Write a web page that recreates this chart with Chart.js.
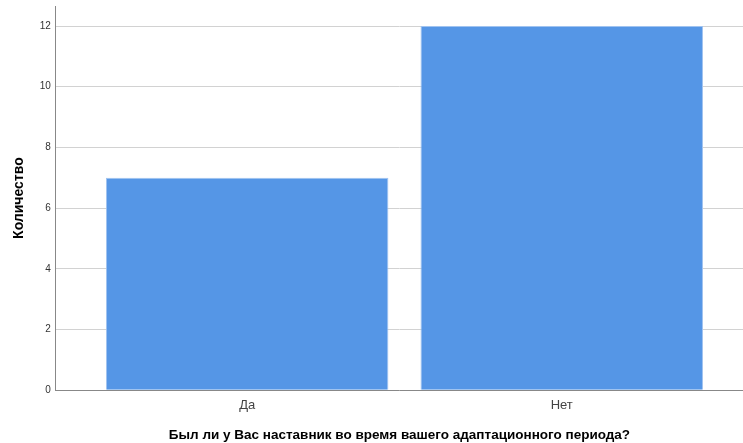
<!DOCTYPE html>
<html>
<head>
<meta charset="utf-8">
<script src="https://cdn.jsdelivr.net/npm/chart.js@4"></script>
<style>
  html, body { margin: 0; padding: 0; background: #fff; overflow: hidden; }
  #wrap { position: relative; width: 743px; height: 443px; }
</style>
</head>
<body>
<div id="wrap"><canvas id="grafico"></canvas></div>
<script>
const categorias = ["Да", "Нет"];
const contagens = [7, 12];
const ticksY = [0, 2, 4, 6, 8, 10, 12];

const tituloX = "Был ли у Вас наставник во время вашего адаптационного периода?";
const tituloY = "Количество";

// bars sit on a linear axis so the gap matches the original layout
const pontos = categorias.map((c, i) => ({ x: i + 1, y: contagens[i] }));

const ctx = document.getElementById("grafico").getContext("2d");

new Chart(ctx, {
    type: "bar",
    data: {
        datasets: [{
            data: pontos,
            backgroundColor: "rgb(85,150,230)",
            borderColor: "rgb(160,195,240)",
            borderWidth: 1,
            categoryPercentage: 1,
            barPercentage: 0.898
        }]
    },
    options: {
        responsive: true,
        maintainAspectRatio: false,
        animation: false,
        layout: { padding: { top: 6, right: 0, left: 11, bottom: 0 } },
        plugins: {
            legend: { display: false },
            tooltip: { enabled: false }
        },
        scales: {
            x: {
                type: "linear",
                offset: false,
                min: 0.3921,
                max: 2.5762,
                afterBuildTicks: (axis) => {
                    axis.ticks = categorias.map((c, i) => ({ value: i + 1 }));
                },
                ticks: {
                    callback: (v) => categorias[v - 1] || "",
                    color: "#444",
                    font: { family: "Liberation Sans", size: 13 },
                    padding: 7,
                    maxRotation: 0
                },
                grid: { display: false, drawTicks: false, offset: false },
                border: { color: "#888", width: 1 },
                title: {
                    display: true,
                    text: tituloX,
                    color: "#000",
                    font: { family: "Liberation Sans", size: 13.5, weight: "bold" },
                    padding: { top: 7, bottom: 0 }
                }
            },
            y: {
                min: 0,
                max: 12.66,
                afterBuildTicks: (axis) => {
                    axis.ticks = ticksY.map(v => ({ value: v }));
                },
                afterFit: (axis) => {
                    axis.paddingTop = 0;
                    axis.paddingBottom = 0;
                },
                ticks: {
                    color: "#333",
                    font: { family: "Liberation Sans", size: 10 },
                    padding: 5
                },
                grid: { color: "#d2d2d2", lineWidth: 1, drawTicks: false },
                border: { color: "#888", width: 1 },
                title: {
                    display: true,
                    text: tituloY,
                    color: "#000",
                    font: { family: "Liberation Sans", size: 14, weight: "bold" },
                    padding: { top: 0, bottom: 7 }
                }
            }
        }
    }
});
</script>
</body>
</html>
